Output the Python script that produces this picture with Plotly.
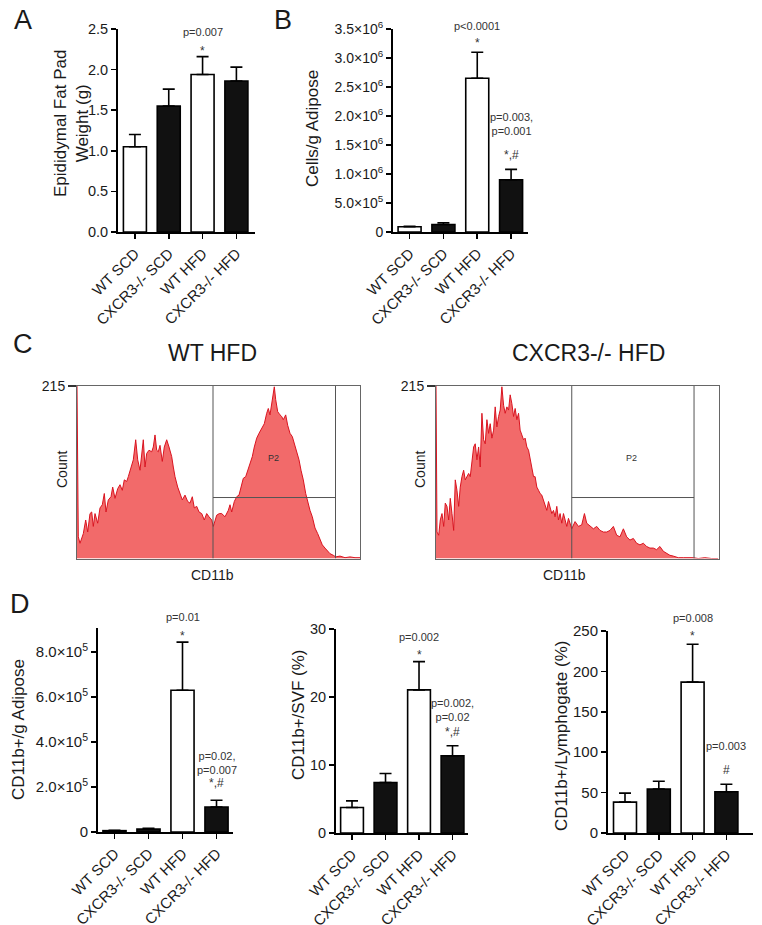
import plotly.graph_objects as go

W, H = 762, 925
FONT = "Liberation Sans, Arial, sans-serif"
TXT = "#1a1a1a"

# ---------------- data ----------------
groups = ["WT SCD", "CXCR3-/- SCD", "WT HFD", "CXCR3-/- HFD"]
bar_fill = ["white", "#111111", "white", "#111111"]

fat_pad_mean = [1.05, 1.55, 1.94, 1.86]
fat_pad_upper = [1.20, 1.76, 2.16, 2.03]

cells_mean = [0.09e6, 0.13e6, 2.65e6, 0.90e6]
cells_upper = [0.10e6, 0.16e6, 3.10e6, 1.08e6]

cd11b_adipose_mean = [0.6e4, 1.3e4, 6.3e5, 1.11e5]
cd11b_adipose_upper = [0.8e4, 1.6e4, 8.44e5, 1.41e5]

cd11b_svf_mean = [3.74, 7.43, 21.05, 11.36]
cd11b_svf_upper = [4.72, 8.76, 25.2, 12.84]

cd11b_lymph_mean = [38.2, 54.3, 186.7, 51.0]
cd11b_lymph_upper = [49.3, 64.1, 233.6, 60.4]

# flow histograms (CD11b channel, count)
wt_hfd_bin = [0, 1.3, 3, 6.3, 8.7, 10.7, 13, 14.7, 16.3, 18, 20.7, 23, 25.3, 27.3, 29, 31.3, 34, 35.7, 38,
              40.7, 43, 45.3, 47.3, 49.7, 51.3, 53, 54.7, 56.3, 58.7, 60.7, 63, 64.7, 66.3, 68, 69.7, 72,
              74.7, 76.3, 78, 79.7, 81.3, 83, 85.3, 87.3, 89.7, 92, 94.7, 96.3, 98, 100.7, 103, 105.3, 108,
              110.7, 113, 115.3, 117.3, 119.7, 122, 124.7, 127.3, 129.7, 132, 134.7, 136.3, 139.7, 142.3,
              144.7, 148, 151.3, 153, 154.7, 157.3, 159.7, 162, 164, 166.3, 168.7, 171.3, 173, 175.3, 177.3,
              179.7, 182, 184.7, 187.3, 189.7, 191.3, 193, 194.7, 196.3, 197.3, 198.7, 200.7, 203, 204.7,
              206.3, 208.7, 210.7, 213, 215.3, 217.3, 219.7, 222, 224, 226.3, 228.7, 230.7, 233, 235.3, 238,
              240.7, 243, 245.3, 248, 250.7, 253, 256.3, 258.7, 263, 268, 273, 278, 283]
wt_hfd_count = [215, 27, 19, 31, 48, 33, 56, 58, 40, 56, 44, 63, 67, 81, 58, 73, 77, 89, 75,
                87, 92, 85, 98, 96, 102, 110, 119, 123, 148, 123, 110, 127, 148, 114, 131, 135,
                133, 139, 154, 135, 133, 141, 121, 139, 148, 139, 127, 114, 102, 89, 81, 73, 79,
                71, 69, 77, 63, 65, 58, 56, 48, 56, 52, 48, 40, 54, 56,
                56, 52, 60, 67, 58, 71, 77, 79, 89, 100, 102, 112, 116, 127, 139,
                150, 156, 162, 168, 181, 187, 179, 193, 202, 214, 198, 183, 179,
                177, 173, 179, 166, 156, 152, 144, 135, 123, 110, 98, 81, 71, 60, 52,
                38, 31, 23, 17, 13, 9, 6, 4, 2, 3, 1, 2, 1, 1]

ko_hfd_bin = [0, 1, 2.7, 4.3, 6, 7.7, 9.3, 11, 12.7, 14.3, 16, 17.7, 19.3, 21, 22.7, 24.3, 26, 27.7, 29.3,
              31, 32.7, 34.3, 36, 37.7, 39.3, 41, 42.7, 44.3, 46, 47.7, 49.3, 51, 52.7, 54.3, 56, 57.7,
              59.3, 61, 62.7, 64.3, 66, 67.7, 69.3, 71, 72.7, 74.3, 76, 77.7, 79.3, 81, 82.7, 84.3, 86,
              87.7, 89.3, 91, 92.7, 94.3, 96, 97.7, 99.3, 101, 102.7, 104.3, 106, 107.7, 109.3, 111,
              112.7, 114.3, 116, 117.7, 119.3, 121, 122.7, 124.3, 126, 127.7, 129.3, 131, 132.7, 134.3,
              136, 139.3,
              142.7, 146, 148.7, 151, 154.3, 157.7, 161, 164.3, 167.7, 171, 174.3, 177.7, 181, 184.3,
              187.7, 191, 194.3, 197.7, 201, 204.3, 207.7, 211, 214.3, 217.7, 221, 224.3, 227.7, 231,
              234.3, 237.7, 242.7, 247.7, 252.7, 257.7, 262.7, 269.3, 276, 282.7]
ko_hfd_count = [215, 33, 29, 48, 56, 40, 69, 65, 48, 75, 56, 35, 98, 85, 65, 89, 102, 110, 98,
                102, 106, 102, 119, 139, 143, 123, 139, 114, 181, 148, 143, 173, 156, 168, 150, 160,
                189, 164, 177, 185, 214, 191, 181, 189, 185, 204, 193, 177, 187, 173, 181, 160, 154,
                148, 150, 139, 135, 123, 114, 102, 102, 89, 85, 81, 79, 73, 67, 60,
                71, 65, 56, 60, 52, 65, 48, 56, 44, 56, 48, 40, 50, 44,
                37, 46,
                40, 42, 56, 44, 40, 37, 40, 35, 33, 33, 35, 40, 29, 27,
                37, 27, 23, 25, 19, 17, 19, 15, 13, 13, 11, 15, 9, 6,
                4, 3, 1, 1, 1, 1, 0, 1, 0, 0]

gate_x = [136, 258.5]
gate_y = 76
hist_max = 215

# ---------------- figure ----------------
fig = go.Figure()
panels = {}


def px_x(p):
    return p / W


def px_y(p):
    return 1 - p / H


def bar_panel(i, means, uppers, xdom, ydom, xrange, yrange, tickvals, ticktext, tfs):
    xa = "x" if i == 1 else f"x{i}"
    ya = "y" if i == 1 else f"y{i}"
    panels[i] = (xdom, ydom, xrange, yrange)
    fig.add_trace(go.Bar(
        x=list(range(len(groups))), y=means, width=0.68,
        marker=dict(color=bar_fill, line=dict(color="black", width=1.6)),
        error_y=dict(type="data", symmetric=False,
                     array=[u - m for u, m in zip(uppers, means)],
                     arrayminus=[0] * len(means), color="black", thickness=1.6, width=6),
        xaxis=xa, yaxis=ya, showlegend=False, hoverinfo="skip"))
    xk = "xaxis" if i == 1 else f"xaxis{i}"
    yk = "yaxis" if i == 1 else f"yaxis{i}"
    fig.layout[xk] = dict(domain=[px_x(xdom[0]), px_x(xdom[1])], anchor=ya, range=xrange,
                          tickvals=list(range(len(groups))), ticktext=groups, tickangle=-45,
                          tickfont=dict(size=15, color=TXT), ticks="outside", ticklen=5,
                          tickwidth=1.6, tickcolor="black", showline=True, linewidth=2,
                          linecolor="black", showgrid=False, zeroline=False, fixedrange=True,
                          automargin=False)
    fig.layout[yk] = dict(domain=[px_y(ydom[1]), px_y(ydom[0])], anchor=xa, range=yrange,
                          tickvals=tickvals, ticktext=ticktext,
                          tickfont=dict(size=tfs, color=TXT), ticks="outside", ticklen=5,
                          tickwidth=1.6, tickcolor="black", showline=True, linewidth=2,
                          linecolor="black", showgrid=False, zeroline=False, fixedrange=True,
                          automargin=False)


sci6 = ["0", "5.0×10<sup>5</sup>", "1.0×10<sup>6</sup>", "1.5×10<sup>6</sup>", "2.0×10<sup>6</sup>",
        "2.5×10<sup>6</sup>", "3.0×10<sup>6</sup>", "3.5×10<sup>6</sup>"]
sci5 = ["0", "2.0×10<sup>5</sup>", "4.0×10<sup>5</sup>", "6.0×10<sup>5</sup>", "8.0×10<sup>5</sup>"]

bar_panel(1, fat_pad_mean, fat_pad_upper, (118, 255), (29, 232), [-0.5, 3.55], [0, 2.5],
          [0, 0.5, 1.0, 1.5, 2.0, 2.5], ["0.0", "0.5", "1.0", "1.5", "2.0", "2.5"], 14.5)
bar_panel(2, cells_mean, cells_upper, (393, 528), (29, 232), [-0.49, 3.5], [0, 3.5e6],
          [0, 0.5e6, 1e6, 1.5e6, 2e6, 2.5e6, 3e6, 3.5e6], sci6, 14)
bar_panel(5, cd11b_adipose_mean, cd11b_adipose_upper, (98, 233), (628, 832), [-0.485, 3.485],
          [0, 9.07e5], [0, 2e5, 4e5, 6e5, 8e5], sci5, 15)
bar_panel(6, cd11b_svf_mean, cd11b_svf_upper, (336, 468), (629, 833), [-0.478, 3.462], [0, 30],
          [0, 10, 20, 30], ["0", "10", "20", "30"], 14.5)
bar_panel(7, cd11b_lymph_mean, cd11b_lymph_upper, (608, 753), (631, 833), [-0.503, 3.787], [0, 250],
          [0, 50, 100, 150, 200, 250], ["0", "50", "100", "150", "200", "250"], 15)


def hist_panel(i, bins, counts, xdom, ydom):
    xa, ya = f"x{i}", f"y{i}"
    fig.add_trace(go.Scatter(x=bins, y=counts, mode="lines", fill="tozeroy",
                             fillcolor="#F26A6A", line=dict(color="#D91420", width=1),
                             xaxis=xa, yaxis=ya, showlegend=False, hoverinfo="skip"))
    fig.layout[f"xaxis{i}"] = dict(domain=[px_x(xdom[0]), px_x(xdom[1])], anchor=ya,
                                   range=[0, 283], showticklabels=False, ticks="",
                                   showline=True, mirror=True, linewidth=1, linecolor="#666666",
                                   showgrid=False, zeroline=False, fixedrange=True, automargin=False)
    fig.layout[f"yaxis{i}"] = dict(domain=[px_y(ydom[1]), px_y(ydom[0])], anchor=xa,
                                   range=[0, hist_max], tickvals=[hist_max], ticktext=[str(hist_max)],
                                   ticks="outside", ticklen=8, tickwidth=1.5, tickcolor="#333333",
                                   tickfont=dict(size=14, color=TXT),
                                   showline=True, mirror=True, linewidth=1, linecolor="#666666",
                                   showgrid=False, zeroline=False, fixedrange=True, automargin=False)
    line = dict(color="#555555", width=1)
    for gx in gate_x:
        fig.add_shape(type="line", xref=xa, yref=ya, x0=gx, x1=gx, y0=0, y1=hist_max, line=line)
    fig.add_shape(type="line", xref=xa, yref=ya, x0=gate_x[0], x1=gate_x[1], y0=gate_y, y1=gate_y,
                  line=line)
    fig.add_annotation(xref=xa, yref=ya, x=(gate_x[0] + gate_x[1]) / 2 - 1, y=125, text="P2",
                       showarrow=False, font=dict(size=9, color="#333333", family=FONT))


hist_panel(3, wt_hfd_bin, wt_hfd_count, (77, 360), (386, 558.5))
hist_panel(4, ko_hfd_bin, ko_hfd_count, (436, 718.5), (386, 558.5))


def ann_px(text, x, y, size, angle=0):
    fig.add_annotation(xref="paper", yref="paper", x=px_x(x), y=px_y(y), text=text,
                       showarrow=False, textangle=angle, xanchor="center", yanchor="middle",
                       font=dict(size=size, color=TXT, family=FONT))


def ann_data(i, text, x, y, size=11):
    # place relative to the panel's data scale (converted to paper so it is never clipped)
    xdom, ydom, xr, yr = panels[i]
    px = xdom[0] + (x - xr[0]) / (xr[1] - xr[0]) * (xdom[1] - xdom[0])
    py = ydom[1] - (y - yr[0]) / (yr[1] - yr[0]) * (ydom[1] - ydom[0])
    fig.add_annotation(xref="paper", yref="paper", x=px_x(px), y=px_y(py), text=text,
                       showarrow=False, xanchor="center", yanchor="middle",
                       font=dict(size=size, color="#333333", family=FONT))


# panel letters
ann_px("A", 23, 20, 27)
ann_px("B", 283, 20, 27)
ann_px("C", 23, 344, 27)
ann_px("D", 20, 604, 27)

# y-axis titles
ann_px("Epididymal Fat Pad<br>Weight (g)", 72, 124, 17, -90)
ann_px("Cells/g Adipose", 312, 129, 17, -90)
ann_px("CD11b+/g Adipose", 18, 730, 17, -90)
ann_px("CD11b+/SVF (%)", 298, 715, 17, -90)
ann_px("CD11b+/Lymphogate (%)", 561, 736, 17, -90)

# histogram titles
ann_px("WT HFD", 212, 353, 23)
ann_px("CXCR3-/- HFD", 588, 353, 23)
ann_px("Count", 62, 470, 14, -90)
ann_px("Count", 420, 470, 14, -90)
ann_px("CD11b", 212, 575, 14)
ann_px("CD11b", 564, 575, 14)

# significance labels
ann_data(1, "p=0.007", 2, 2.463)
ann_data(1, "*", 2, 2.23, 12)

ann_data(2, "p<0.0001", 2, 3.55e6)
ann_data(2, "*", 2, 3.26e6, 12)
ann_data(2, "p=0.003,<br>p=0.001", 3, 1.86e6)
ann_data(2, "*,#", 3, 1.33e6, 12)

ann_data(5, "p=0.01", 2, 9.56e5)
ann_data(5, "*", 2, 8.71e5, 12)
ann_data(5, "p=0.02,<br>p=0.007", 3, 3.07e5)
ann_data(5, "*,#", 3, 2.18e5, 12)

ann_data(6, "p=0.002", 2, 28.8)
ann_data(6, "*", 2, 26.2, 12)
ann_data(6, "p=0.002,<br>p=0.02", 3, 18.1)
ann_data(6, "*,#", 3, 14.85, 12)

ann_data(7, "p=0.008", 2, 266)
ann_data(7, "*", 2, 243.8, 12)
ann_data(7, "p=0.003", 3, 107.7)
ann_data(7, "#", 3, 78, 12)

fig.update_layout(template="none", width=W, height=H, margin=dict(l=0, r=0, t=0, b=0, pad=0),
                  paper_bgcolor="white", plot_bgcolor="rgba(0,0,0,0)",
                  font=dict(family=FONT, color=TXT), showlegend=False, bargap=0)

fig.write_html("out.html", config={"displayModeBar": False, "staticPlot": True},
               post_script="document.body.style.margin='0';")
